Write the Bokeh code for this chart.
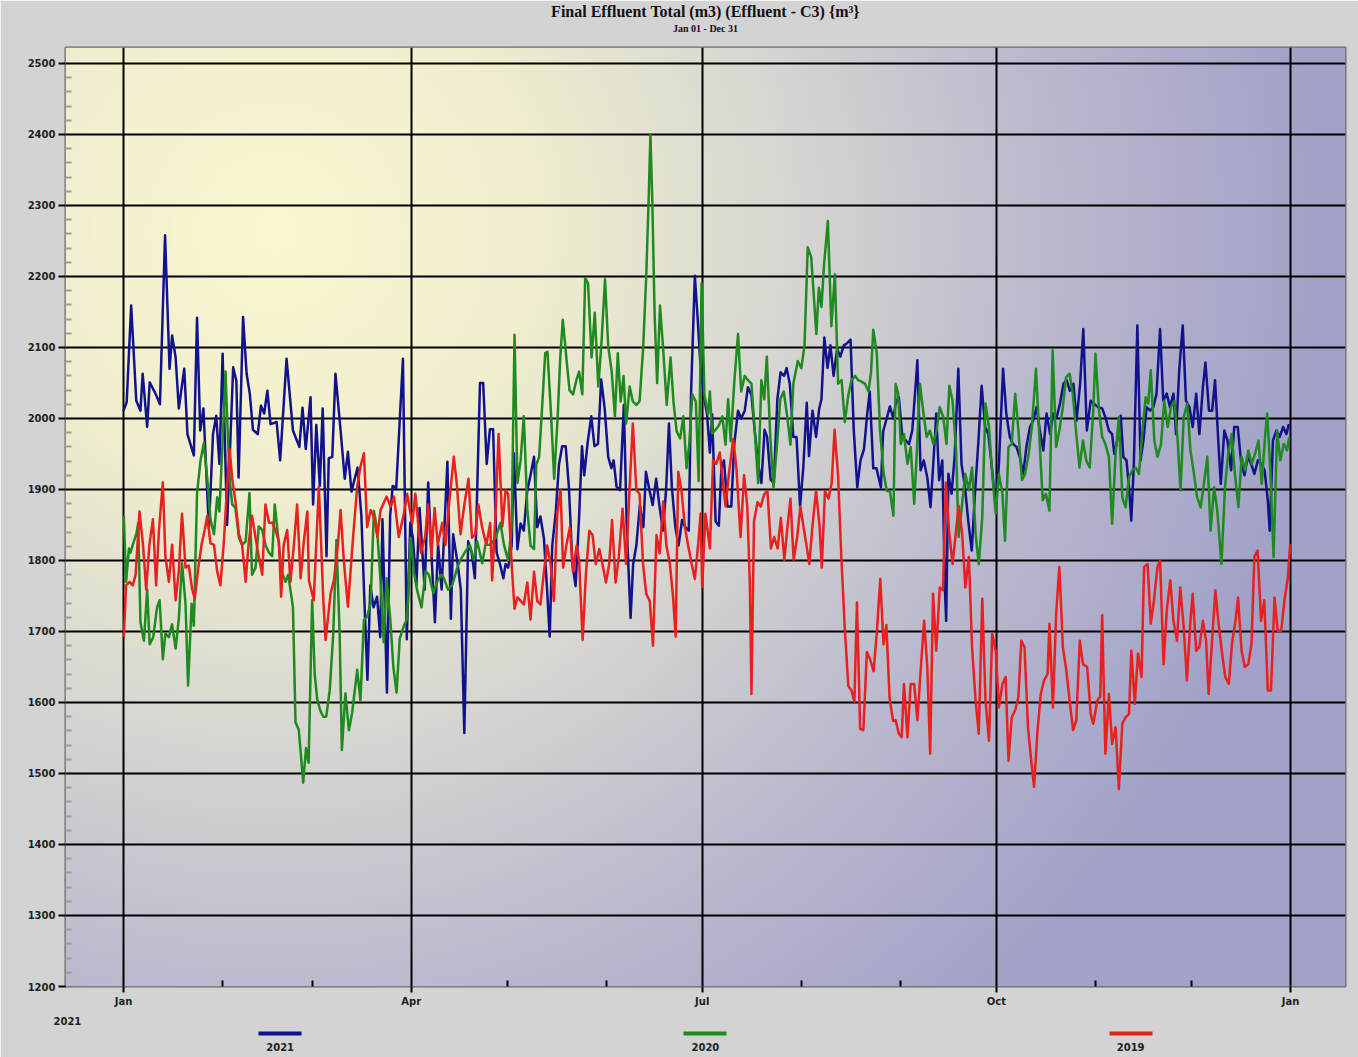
import numpy as np
from bokeh.plotting import figure
from bokeh.models import Range1d, FixedTicker, Title, LinearAxis
from bokeh.embed import file_html
from bokeh.resources import INLINE

TITLE = "Final Effluent Total (m3) (Effluent - C3) {m³}"
SUBTITLE = "Jan 01 - Dec 31"
YEAR_TEXT = "2021"
SERIES = ["2021", "2020", "2019"]
COLORS = ["#12128c", "#1f8a1f", "#e82020"]
MONTH_TICKS = [0, 90, 181, 273, 365]
MONTH_LABELS = ["Jan", "Apr", "Jul", "Oct", "Jan"]
MINOR_MONTHS = [31, 59, 120, 151, 212, 243, 304, 334]
Y_TICKS = list(range(1200, 2600, 100))
Y_MINOR = [v for v in range(1200, 2500, 20) if v % 100]

# (day of year, m3)
PTS_2021 = [(0,2011),(1,2023),(2.4,2159),(4,2025),(5.3,2011),(6,2063),(7.4,1988),(8.2,2051),(10,2035),(11.4,2020),
(13,2258),(14.4,2070),(15.2,2117),(16.3,2086),(17.3,2014),(19,2070),(20,1978),(22,1948),(23,2142),(24,1983),(25,2014),
(26.7,1845),(28,1978),(29,2004),(30,1936),(31,2091),(32.4,1850),(34.3,2072),(35.3,2053),(36,1917),(37.4,2143),(38.5,2063),
(39.5,2035),(40.5,1984),(42,1978),(43,2018),(44,2007),(45,2039),(46,1992),(47.9,1995),(49,1941),(51,2084),(53,1983),(55,1960),
(56,2015),(57,1957),(58.5,2030),(59.3,1879),(60.3,1991),(61.4,1905),(62.3,2014),(63.5,1806),(64.2,1944),(65.3,1946),(66.3,2063),
(67.9,1983),(69.2,1915),(70.2,1953),(71.3,1897),(73.2,1931),(74.4,1863),(75.3,1749),(76.3,1632),(77.2,1765),(78.2,1734),
(79.3,1749),(80.3,1692),(81,1858),(82.4,1614),(83.4,1863),(84.2,1905),(85.3,1902),(87.4,2084),(88.6,1689),(89.7,1853),
(90.5,1832),(91.6,1765),(92.6,1874),(94.2,1759),(95.3,1910),(96.3,1811),(97.4,1713),(98.4,1822),(99.5,1759),(101.3,1939),
(102.4,1718),(103.1,1837),(104.5,1796),(105.5,1759),(106.6,1557),(107.8,1827),(108.9,1811),(109.9,1775),(111.5,2050),
(112.5,2050),(113.6,1936),(114.6,1985),(115.6,1985),(116.7,1811),(117.7,1796),(118.8,1775),(119.5,1795),(120.3,1790),
(121.4,1821),(122.1,1951),(123.2,1816),(124.2,1852),(125.2,1842),(126.3,1899),(127.3,1920),(128.4,1946),(129.4,1847),
(130.4,1862),(131.5,1831),(132.5,1758),(133.3,1693),(134.1,1821),(135.2,1868),(136.2,1935),(137.2,1961),(138.3,1961),
(139.3,1904),(140.4,1795),(141.4,1764),(142.5,1862),(143.4,1961),(144.1,1920),(145.2,1967),(146.3,2003),(147.3,1961),
(148.4,1964),(149.4,2055),(150.5,2014),(151.6,1946),(152.6,1930),(153.3,1941),(154.2,1904),(155.3,1899),(156.5,2019),
(157.4,1847),(158.6,1719),(159.4,1795),(160.4,1821),(161.5,1878),(162.6,1847),(163.4,1925),(164.5,1899),(165.5,1878),
(166.6,1915),(167.6,1878),(168.7,1842),(169.7,1899),(170.6,1993),(171.5,1904),(172.6,1847),(173.6,1821),(174.7,1857),
(175.7,1847),(176.8,1842),(177.5,2034),(178.7,2201),(179.6,2139),(180.5,2071),(181.7,2027),(182.5,2006),(183.4,1952),
(184.1,2006),(185.2,1855),(186.2,1849),(187,1930),(187.8,1941),(188.9,1876),(190.1,1876),(191,1963),(192.2,2011),
(193.2,2000),(194.3,2011),(195.3,2044),(196.4,2033),(197.4,1984),(198.5,1936),(199.5,1909),(200.5,1984),(201.3,1974),
(202.4,1914),(203.4,1909),(204.5,2027),(205.5,2065),(206.6,2060),(207.4,2071),(208.4,2049),(209.5,1974),(210.5,1974),
(211.6,1876),(212.6,1930),(213.7,2022),(214.4,1947),(215.5,2011),(216.6,1974),(217.6,2014),(218.3,2027),(219.2,2114),
(220.2,2071),(221.1,2103),(222.1,2060),(223.2,2098),(224.2,2087),(225.3,2103),(226.3,2106),(227.4,2111),(228.4,1984),
(229.5,1903),(230.5,1941),(231.6,1957),(232.6,2006),(233.4,2038),(234.5,1930),(235.5,1930),(236.9,1903),(237.6,1982),
(238.7,2000),(239.7,2017),(240.8,2000),(241.5,2021),(242.5,2030),(243.6,1974),(244.7,1969),(245.7,1964),(246.7,1983),
(247.7,2044),(248.3,2082),(249.3,1927),(250.3,1941),(251.4,1917),(252.4,1875),(253.2,1931),(254.2,2007),(255.1,1913),
(256.1,1941),(256.9,1762),(257.3,1715),(258,1922),(259,1894),(260,1950),(261.1,2070),(262.1,1936),(263.2,1903),
(264.2,1856),(265.3,1814),(266.3,1894),(267.4,1969),(268.4,2046),(269.5,1988),(270.5,1978),(271.8,1922),(272.8,1875),
(273.8,1936),(275.1,2070),(276.1,2007),(277.2,1974),(278.2,1964),(279.3,1960),(280.3,1946),(281.4,1922),(282.4,1960),
(283.5,1988),(284.5,1997),(285.6,2016),(286.6,1983),(287.7,1955),(288.7,2007),(289.8,1978),(290.8,2007),(291.9,2002),
(292.9,2021),(294,2049),(295,2054),(296,2039),(297.1,2049),(298.1,1997),(299.2,2049),(300.2,2126),(301.3,1983),
(302.5,2025),(303.5,2021),(304.8,2016),(306.1,2014),(307.1,2002),(308.2,1983),(309.2,1978),(309.9,1950),(310.8,1969),
(311.9,2004),(312.7,1946),(313.7,1941),(314.5,1903),(315.2,1856),(316,1936),(317.1,2131),(318.1,1941),(319,1969),
(320,2016),(321.1,2011),(322.1,2016),(323.1,2035),(324.2,2126),(325.2,2025),(326.3,2035),(327.3,2016),(328.4,2035),
(329.2,1978),(330.2,2068),(331.3,2131),(332.3,2025),(333.4,2016),(334.4,1988),(335.5,2035),(336.5,1978),(337.6,2044),
(338.4,2079),(339.5,2011),(340.5,2011),(341.4,2054),(342.4,1969),(343.2,1908),(344.3,1983),(345.3,1969),(346.4,1927),
(347.4,1988),(348.5,1988),(349.5,1941),(350.6,1920),(351.6,1946),(352.7,1936),(353.7,1922),(354.8,1941),(355.8,1936),
(356.9,1927),(357.9,1885),(358.5,1842),(359.5,1969),(360.6,1983),(361.6,1974),(362.7,1988),(363.7,1978),(364.5,1992)]

PTS_2020 = [(0.1,1863),(0.8,1770),(1.7,1817),(2.2,1811),(2.9,1822),(4,1837),(4.6,1853),(5.3,1713),(6.4,1687),(7.4,1759),
(8.2,1682),(9.3,1692),(10.5,1734),(11.3,1744),(12.3,1661),(13.1,1697),(14.2,1692),(15.2,1710),(16.3,1676),(17.3,1718),
(18.3,1796),(19.4,1739),(20.2,1624),(21.3,1739),(22,1708),(23,1895),(24.1,1941),(25.1,1965),(26.2,1915),(27.2,1858),
(28.3,1837),(29.3,1889),(30,1869),(31.1,1978),(31.9,2066),(32.4,2004),(33.2,1915),(34,1879),(35,1874),(36.1,1832),
(37.1,1822),(38.2,1827),(39.4,1895),(40.2,1780),(41.3,1790),(42.3,1848),(43.4,1843),(44.4,1822),(45.5,1811),(46.5,1806),
(47.3,1879),(48.4,1832),(49.4,1785),(50.7,1770),(51.5,1780),(52.2,1759),(53,1734),(53.8,1572),(54.8,1562),(55.5,1526),
(56.2,1487),(57.1,1536),(57.9,1515),(59,1744),(59.8,1640),(60.6,1604),(61.6,1588),(62.5,1580),(63.4,1580),(64.5,1617),
(65.6,1697),(66.6,1829),(67.6,1697),(68.3,1533),(69.4,1613),(70.5,1561),(71.5,1585),(73.1,1646),(74.1,1603),(75.2,1716),
(76.2,1721),(77.3,1740),(78.3,1870),(79.3,1845),(80.4,1770),(81.4,1685),(82.3,1775),(83.4,1720),(84.4,1650),(85.4,1614),
(86.4,1690),(87.7,1708),(88.7,1718),(89.8,1832),(90.8,1785),(91.8,1759),(93.2,1734),(94.5,1785),(95.5,1780),(96.9,1754),
(98.1,1770),(99.4,1780),(100.2,1775),(101.5,1759),(102.8,1765),(104.4,1790),(105.4,1801),(106.7,1811),(108.3,1822),
(109.6,1801),(110.6,1827),(112.2,1796),(113.2,1822),(114.8,1822),(116.4,1832),(117.9,1853),(119,1822),(120.3,1800),
(121.4,1847),(122.3,2118),(123.2,1909),(124.2,1941),(125.2,2003),(126.3,1873),(127.3,1821),(128.4,1816),(129.1,1935),
(130,1946),(131.1,2029),(131.9,2092),(132.6,2094),(133.7,2008),(134.7,1915),(135.8,2003),(136.6,2086),(137.4,2139),
(138.5,2086),(139.5,2040),(140.6,2034),(141.7,2055),(142.5,2066),(143.5,2034),(144.4,2198),(145.3,2190),(146.4,2086),
(147.4,2149),(148.5,2045),(149.5,2107),(150.6,2196),(151.6,2102),(152.7,2066),(153.7,2003),(154.6,2092),(155.5,2024),
(156.4,2060),(157.2,1993),(158.3,2045),(159.3,2024),(160.4,2019),(161.4,2024),(162.5,2097),(163.5,2201),(164.3,2316),
(164.8,2400),(165.4,2305),(166.1,2149),(166.9,2050),(167.8,2159),(168.8,2097),(169.9,2019),(171.1,2086),(172,2024),
(173,1982),(174.1,1972),(175.1,2003),(176.1,1930),(176.9,1961),(177.9,2034),(179,2024),(179.9,1912),(180.8,2190),
(181.7,2033),(182.8,2006),(183.4,2038),(184.1,1979),(185.2,1984),(186.2,1990),(187.3,2003),(188.3,1963),(189.1,2027),
(189.9,1968),(191,2049),(192.2,2119),(193.2,2038),(194.3,2060),(195.3,2054),(196.4,2049),(197.4,1984),(198.5,1909),
(199.5,2054),(200.4,2027),(201.2,2087),(202.3,1974),(203.3,1903),(204.4,1963),(205.4,2027),(206.5,2038),(207.5,2006),
(208.6,1963),(209.5,2049),(210.9,2081),(212,2071),(213,2103),(214,2241),(215.1,2227),(215.9,2173),(216.7,2119),
(217.5,2184),(218.3,2157),(219.1,2216),(220.3,2278),(221.4,2130),(222.5,2203),(223.5,2049),(224.6,2054),(225.6,1995),
(226.7,2033),(227.7,2054),(228.8,2060),(229.8,2054),(230.8,2052),(231.9,2049),(233,2038),(233.8,2065),(234.5,2125),
(235.6,2092),(236.6,1984),(237.7,1925),(238.7,1898),(239.7,1898),(240.8,1863),(241.5,2049),(242.3,2035),(243.1,1964),
(244.1,1978),(245.2,1936),(246.2,1960),(247.3,1880),(248,1941),(249.1,2049),(250.1,2011),(251.2,1974),(252.2,1983),
(253.3,1964),(254.3,1983),(255.3,2016),(256.4,2002),(257.4,1964),(258.3,2046),(259.3,2025),(260.4,1955),(261.2,1833),
(262.3,1880),(263.3,1922),(264.4,1899),(265.4,1931),(266.5,1838),(267.5,1795),(268.6,1861),(269.6,2021),(270.7,1988),
(271.7,1922),(272.8,1866),(273.8,1922),(274.9,1894),(275.7,1828),(276.8,1960),(277.8,1964),(278.9,2035),(279.9,1983),
(281,1913),(282,1922),(283.1,1950),(284.1,1988),(285.4,2070),(286.4,1978),(287.5,1885),(288.5,1894),(289.6,1870),
(290.6,2096),(291.7,1960),(292.7,1983),(293.8,2016),(294.8,2058),(295.9,2063),(296.9,2035),(298,1978),(299,1931),
(300.1,1969),(301.1,1941),(302.2,1931),(303.3,2011),(304,2091),(305.1,2011),(306.1,1974),(307.1,1964),(308.2,1946),
(309.2,1852),(310.3,1950),(311.3,2002),(312.4,1889),(313.4,1875),(314.5,1917),(315.5,1927),(316.6,1931),(317.6,1922),
(318.7,1983),(319.7,2030),(320.5,2021),(321.3,2068),(322.4,1969),(323.4,1946),(324.5,1964),(325.5,2025),(326.6,1988),
(327.6,2016),(328.7,2025),(329.7,1969),(330.6,1899),(331.6,2002),(332.7,2021),(333.7,1955),(334.8,1922),(335.8,1889),
(336.9,1875),(337.9,1908),(339,1946),(340,1842),(341.1,1903),(342.1,1870),(343.4,1795),(344.5,1903),(345.5,1950),
(346.6,1978),(347.6,1922),(348.7,1875),(349.7,1946),(350.8,1927),(351.8,1955),(352.9,1936),(353.9,1950),(355,1969),
(356,1908),(357.1,1978),(357.7,2007),(358.7,1927),(359.7,1805),(360.8,1983),(361.8,1941),(362.9,1964),(363.9,1955),
(364.6,1974)]

PTS_2019 = [(0.1,1692),(0.8,1765),(1.9,1770),(2.9,1765),(3.8,1780),(5,1869),(6.1,1822),(7.1,1759),(8.1,1822),(9.2,1858),
(10.2,1765),(11.1,1843),(12.3,1910),(13.1,1806),(14.2,1770),(15.2,1822),(16.3,1744),(17.3,1785),(18.3,1866),(19.4,1790),
(20.4,1793),(21.5,1759),(22.3,1746),(23.4,1790),(24.4,1822),(25.4,1843),(26.2,1863),(27.2,1824),(28.3,1822),(29.3,1785),
(30.3,1765),(31.4,1827),(32.4,1905),(33.2,1957),(34,1915),(35,1884),(36.1,1837),(37.1,1822),(38.2,1770),(39.2,1827),
(40.2,1863),(41.3,1832),(42.3,1806),(43.4,1780),(44.4,1879),(45.5,1853),(46.5,1853),(47.5,1843),(48.6,1827),(49.3,1749),
(50.1,1822),(51.2,1843),(52.2,1770),(53.3,1822),(54.3,1879),(55.4,1775),(56.4,1827),(57.5,1869),(58,1772),(59.5,1744),
(61.1,1904),(62.5,1744),(63.2,1688),(64.8,1754),(65.8,1772),(67.1,1824),(67.9,1871),(68.9,1800),(70.2,1735),(71.8,1833),
(73.1,1904),(74.1,1932),(75.2,1951),(76.2,1847),(77.3,1871),(78.3,1862),(79.4,1833),(80.4,1871),(82.3,1890),(83.5,1876),
(84.6,1890),(86.1,1833),(87.7,1866),(88.7,1894),(90.3,1852),(91.3,1894),(93,1811),(94.3,1832),(95.3,1879),(96.3,1806),
(97.3,1874),(98.3,1822),(99.7,1853),(100.7,1822),(101.7,1874),(103.3,1946),(104.3,1905),(105.4,1837),(106.6,1879),
(107.9,1915),(109,1832),(110,1837),(111,1879),(112.1,1848),(113.5,1822),(114.7,1853),(115.3,1772),(116.4,1869),
(117.3,1978),(118.5,1848),(119.5,1899),(120.3,1894),(121.4,1795),(122.3,1732),(123.2,1748),(124.2,1743),(125.2,1738),
(126.3,1769),(127.3,1717),(128.4,1784),(129.4,1743),(130.4,1738),(131.5,1784),(132.5,1821),(133.6,1795),(134.6,1743),
(135.7,1868),(136.7,1899),(137.5,1790),(138.5,1821),(139.6,1847),(140.6,1784),(141.7,1821),(142.5,1800),(143.6,1688),
(144.6,1779),(145.7,1842),(146.7,1836),(147.7,1795),(148.8,1816),(149.8,1795),(150.9,1769),(151.9,1795),(152.8,1857),
(153.9,1769),(154.9,1805),(156.1,1873),(157.2,1795),(158.2,1894),(159.3,1993),(160.4,1899),(161.4,1894),(162.5,1795),
(163.5,1753),(164.6,1743),(165.6,1680),(166.7,1836),(167.7,1810),(168.8,1883),(169.8,1821),(170.9,1795),(171.9,1748),
(172.7,1693),(173.5,1925),(174.5,1899),(175.6,1847),(176.6,1821),(177.7,1795),(178.7,1774),(179.8,1826),(180.5,1866),
(181,1763),(182,1866),(183.4,1817),(184.4,1941),(185.4,1936),(186.5,1952),(187.5,1909),(188.3,1876),(189.3,1920),
(190.7,1971),(191.7,1930),(193,1833),(194.1,1920),(195.1,1876),(195.9,1768),(196.4,1612),(197.2,1855),(198.3,1882),
(199.3,1876),(200.4,1893),(201.4,1898),(202.5,1817),(203.5,1833),(204.6,1817),(205.6,1860),(206.7,1801),(207.7,1849),
(208.6,1887),(209.6,1801),(210.7,1833),(211.7,1876),(212.8,1844),(213.6,1822),(214.5,1795),(215.5,1849),(216.6,1898),
(217.7,1849),(218.4,1790),(219.4,1898),(220.5,1887),(221.5,1909),(222.4,1984),(223.5,1920),(224.5,1806),(225.6,1704),
(226.7,1623),(227.7,1617),(228.6,1601),(229.4,1741),(230.4,1563),(231.4,1561),(232.5,1671),(233.5,1661),(234.6,1644),
(235.6,1698),(236.7,1774),(237.7,1682),(238.6,1709),(239.6,1607),(240.7,1574),(241.5,1575),(242.5,1556),(243.4,1551),
(244.1,1626),(245.2,1551),(246.2,1626),(247.3,1626),(248.3,1575),(249.4,1650),(250.4,1715),(251.4,1650),(252.3,1528),
(253.2,1753),(254.2,1673),(255.3,1762),(256.3,1758),(257.2,1910),(258.2,1842),(259.3,1795),(260.3,1838),(261.2,1877),
(262.3,1838),(263.3,1762),(264.4,1805),(265.4,1678),(266.5,1603),(267.5,1556),(268.6,1746),(269.6,1603),(270.7,1546),
(271.7,1697),(272.8,1673),(273.8,1593),(274.9,1626),(275.9,1636),(276.8,1518),(277.8,1579),(278.9,1589),(279.9,1608),
(280.8,1687),(281.8,1678),(282.9,1565),(283.9,1518),(284.8,1481),(285.8,1556),(286.9,1612),(287.9,1631),(289,1640),
(289.6,1711),(290.7,1593),(291.7,1725),(292.7,1791),(293.8,1678),(294.9,1645),(295.9,1603),(297,1561),(298,1575),
(299.1,1687),(300.1,1654),(301.4,1650),(302.5,1584),(303.3,1570),(304.6,1603),(305.5,1608),(306.1,1723),(307.1,1528),
(308.2,1612),(309.2,1542),(310.3,1565),(311.3,1478),(312.4,1570),(313.4,1579),(314.5,1584),(315.2,1673),(316.3,1598),
(317.3,1669),(318.4,1636),(319.2,1791),(320.3,1795),(321.3,1711),(322.3,1744),(323.4,1791),(324.2,1800),(325.3,1654),
(326.3,1730),(327.4,1772),(328.4,1715),(329.5,1687),(330.5,1762),(331.6,1706),(332.6,1631),(333.7,1715),(334.4,1753),
(335.5,1673),(336.5,1678),(337.6,1715),(338.6,1687),(339.4,1612),(340.4,1683),(341.5,1758),(342.5,1711),(343.6,1669),
(344.6,1636),(345.7,1626),(346.7,1683),(347.8,1715),(348.6,1748),(349.7,1673),(350.7,1650),(351.8,1654),(352.8,1683),
(353.7,1805),(354.7,1814),(355.8,1715),(356.8,1744),(357.9,1617),(358.9,1617),(360,1748),(361,1701),(362.1,1701),
(363.1,1744),(364.2,1777),(364.9,1823)]

# ---------------- layout constants ----------------
W, H = 1358, 1057
BG = "#d3d3d3"
X0, X1 = -18.14, 382.2
Y0, Y1 = 1200, 2522.5
FRAME_L, FRAME_T = 65, 47
FRAME_W, FRAME_H = 1280, 939
TEXT_COLOR = "#1e1e1e"
LEGEND_DAYS = [49, 182, 315]      # where the legend entries sit along the axis
BAR_HALF = 6.7                    # half length of a legend bar, in days

GRAD_T = [0.0, 0.25, 0.5, 0.75, 1.0]
GRAD_R = [250, 240, 214, 184, 162]
GRAD_G = [248, 238, 213, 184, 162]
GRAD_B = [208, 206, 210, 206, 200]

p = figure(width=W, height=H, x_range=Range1d(X0, X1), y_range=Range1d(Y0, Y1),
           output_backend="svg", toolbar_location=None,
           min_border_left=FRAME_L, min_border_right=W - FRAME_L - FRAME_W,
           min_border_top=FRAME_T, min_border_bottom=H - FRAME_T - FRAME_H)
p.border_fill_color = BG
p.background_fill_color = "#c8c8d6"
p.outline_line_color = "#6a6a6a"
p.outline_line_width = 2

# gradient background image (style only)
GW, GH = 640, 470
fx = (np.arange(GW) + 0.5) * (FRAME_W / GW)
fy = (np.arange(GH) + 0.5) * (FRAME_H / GH)
FX, FY = np.meshgrid(fx, fy)
dist = np.hypot(FX + FRAME_L - 275, FY + FRAME_T - 230) / 1050.0
rgba = np.zeros((GH, GW, 4), dtype=np.uint8)
rgba[..., 0] = np.interp(dist, GRAD_T, GRAD_R)
rgba[..., 1] = np.interp(dist, GRAD_T, GRAD_G)
rgba[..., 2] = np.interp(dist, GRAD_T, GRAD_B)
rgba[..., 3] = 255
img = np.ascontiguousarray(rgba[::-1]).view(np.uint32).reshape(GH, GW)
p.image_rgba(image=[img], x=X0, y=Y0, dw=X1 - X0, dh=Y1 - Y0, level="image")

# main axes
p.xaxis.ticker = FixedTicker(ticks=MONTH_TICKS, minor_ticks=MINOR_MONTHS)
p.xaxis.major_label_overrides = {t: l for t, l in zip(MONTH_TICKS, MONTH_LABELS)}
p.yaxis.ticker = FixedTicker(ticks=Y_TICKS, minor_ticks=Y_MINOR)
p.xgrid.ticker = FixedTicker(ticks=MONTH_TICKS)
p.ygrid.ticker = FixedTicker(ticks=Y_TICKS)
p.grid.grid_line_color = "black"
p.grid.grid_line_width = 2
p.grid.grid_line_alpha = 1.0

for ax in (p.xaxis[0], p.yaxis[0]):
    ax.axis_line_color = None
    ax.major_tick_line_color = "black"
    ax.major_tick_line_width = 2
    ax.major_tick_in = 0
    ax.major_tick_out = 7
    ax.major_label_text_font = "DejaVu Sans"
    ax.major_label_text_font_style = "bold"
    ax.major_label_text_font_size = "10px"
    ax.major_label_text_color = TEXT_COLOR
p.xaxis[0].major_tick_out = 6
p.xaxis[0].major_label_standoff = 3
p.yaxis[0].major_label_standoff = 3
p.yaxis[0].minor_tick_line_color = "#9c9c9c"
p.yaxis[0].minor_tick_line_width = 2
p.yaxis[0].minor_tick_in = 6
p.yaxis[0].minor_tick_out = 0
p.xaxis[0].minor_tick_line_color = "black"
p.xaxis[0].minor_tick_line_width = 2
p.xaxis[0].minor_tick_in = 6
p.xaxis[0].minor_tick_out = 0

# data lines
for pts, color in zip([PTS_2021, PTS_2020, PTS_2019], COLORS):
    xs = [d for d, v in pts]
    ys = [v for d, v in pts]
    p.line(xs, ys, line_color=color, line_width=2.5, line_join="round")

# ---- title and subtitle ----
p.title.text = TITLE
p.title.align = "center"
p.title.text_font = "Liberation Serif"
p.title.text_font_style = "bold"
p.title.text_font_size = "16px"
p.title.text_color = "#111111"
p.title.standoff = 0

sub_ax = LinearAxis(ticker=FixedTicker(ticks=[]), axis_label=SUBTITLE,
                    axis_label_standoff=14, axis_label_text_font="Liberation Serif",
                    axis_label_text_font_style="bold", axis_label_text_font_size="10px",
                    axis_label_text_color="#111111", axis_line_color=None,
                    major_tick_line_color=None, minor_tick_line_color=None,
                    major_tick_in=0, major_tick_out=0, minor_tick_in=0, minor_tick_out=0,
                    major_label_standoff=0)
p.add_layout(sub_ax, "above")


def quiet_axis(**kw):
    base = dict(major_tick_in=0, major_tick_out=0, minor_tick_in=0, minor_tick_out=0,
                major_tick_line_color=None, minor_tick_line_color=None)
    base.update(kw)
    return LinearAxis(**base)


# ---- year caption under the axis ----
p.add_layout(Title(text=YEAR_TEXT, align="left", vertical_align="top", offset=-12,
                   text_font="DejaVu Sans", text_font_style="bold", text_font_size="10px",
                   text_color=TEXT_COLOR, standoff=14), "below")

# ---- legend: coloured bars (axis lines bounded to a short span) ----
for day, color in zip(LEGEND_DAYS, COLORS):
    p.add_layout(quiet_axis(ticker=FixedTicker(ticks=[]), bounds=(day - BAR_HALF, day + BAR_HALF),
                            axis_line_color=color, axis_line_width=4,
                            major_label_standoff=0), "below")

# ---- legend labels centred under the bars ----
p.add_layout(quiet_axis(ticker=FixedTicker(ticks=LEGEND_DAYS),
                        major_label_overrides={d: s for d, s in zip(LEGEND_DAYS, SERIES)},
                        axis_line_color=None, major_label_standoff=9,
                        major_label_text_font="DejaVu Sans", major_label_text_font_style="bold",
                        major_label_text_font_size="10px", major_label_text_color=TEXT_COLOR),
             "below")

open("out.html", "w").write(file_html(p, INLINE))
